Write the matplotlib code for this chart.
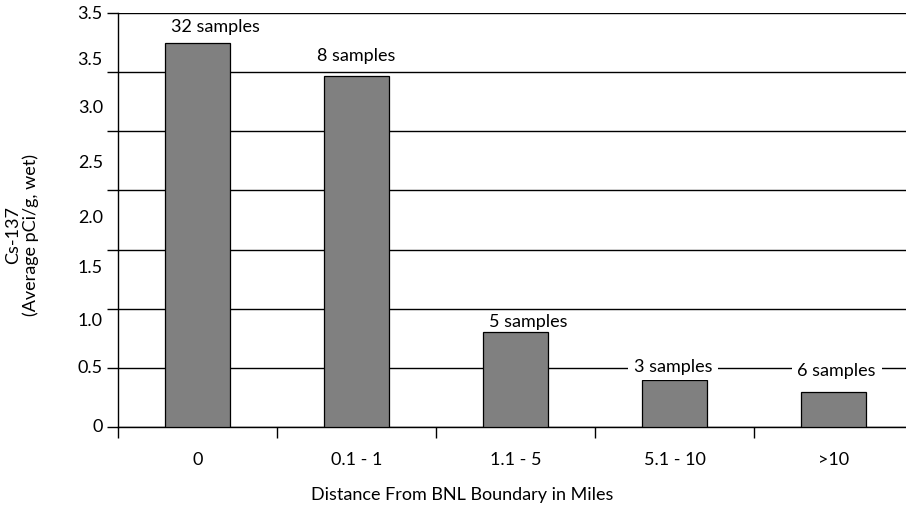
import matplotlib
matplotlib.use("Agg")
import matplotlib.pyplot as plt
import numpy as np

# distance classes and average Cs-137 per class
categories = ["0", "0.1 - 1", "1.1 - 5", "5.1 - 10", ">10"]
cs137 = [3.25, 2.97, 0.80, 0.40, 0.30]
sample_labels = ["32 samples", "8 samples", "5 samples", "3 samples", "6 samples"]

# y tick labels as printed in the original (they drift off the grid)
ytick_text = ["0", "0.5", "1.0", "1.5", "2.0", "2.5", "3.0", "3.5", "3.5"]
ytick_text_pos = [0.0, 0.5, 0.90, 1.34, 1.77, 2.23, 2.70, 3.10, 3.49]

plt.rcParams["font.family"] = ["Lato", "DejaVu Sans"]
fs = 13

fig = plt.figure(figsize=(9.06, 5.09), dpi=100)
ax = fig.add_axes([118 / 906, (509 - 427) / 509, 795 / 906, 414 / 509])

x = np.arange(len(categories))
ax.bar(x, cs137, width=0.41, color="#808080", edgecolor="black", linewidth=0.9, zorder=3)

ax.set_xlim(-0.5, len(categories) - 0.5)
ax.set_ylim(0, 3.5)

# gridlines every 0.5 with outward ticks, labels drawn separately
ax.set_yticks(np.arange(0, 3.51, 0.5))
ax.set_yticklabels([])
ax.tick_params(axis="y", direction="out", length=8, width=1, color="black")
ax.yaxis.grid(True, color="black", linewidth=1)
ax.set_axisbelow(True)
for t, p in zip(ytick_text, ytick_text_pos):
    ax.text(-0.019, p, t, transform=ax.get_yaxis_transform(), ha="right", va="center",
            fontsize=fs)

# category boundary ticks, labels centered
ax.set_xticks(np.arange(-0.5, len(categories), 1.0))
ax.set_xticklabels([])
ax.tick_params(axis="x", which="major", direction="out", length=8, width=1)
ax.set_xticks(x, minor=True)
ax.set_xticklabels(categories, minor=True, fontsize=fs)
ax.tick_params(axis="x", which="minor", length=0, pad=18)

for s in ["top", "right"]:
    ax.spines[s].set_visible(False)
ax.spines["left"].set_linewidth(1)
ax.spines["bottom"].set_linewidth(1)

# sample count annotations
label_x = [0.11, 1.0, 2.08, 2.99, 4.02]
label_y = [3.38, 3.14, 0.89, 0.51, 0.47]
for i, lab in enumerate(sample_labels):
    box = None
    if i >= 3:
        box = dict(facecolor="white", edgecolor="none", pad=4)
    ax.text(label_x[i], label_y[i], lab, ha="center", va="center", fontsize=fs,
            bbox=box, zorder=4)

fig.text(22 / 906, 1 - 235 / 509, "Cs-137\n(Average pCi/g, wet)", rotation=90,
         ha="center", va="center", fontsize=fs, linespacing=1.1, multialignment="center")
fig.text(462 / 906, 1 - 495 / 509, "Distance From BNL Boundary in Miles",
         ha="center", va="center", fontsize=fs)

fig.savefig("out.png", dpi=100)
